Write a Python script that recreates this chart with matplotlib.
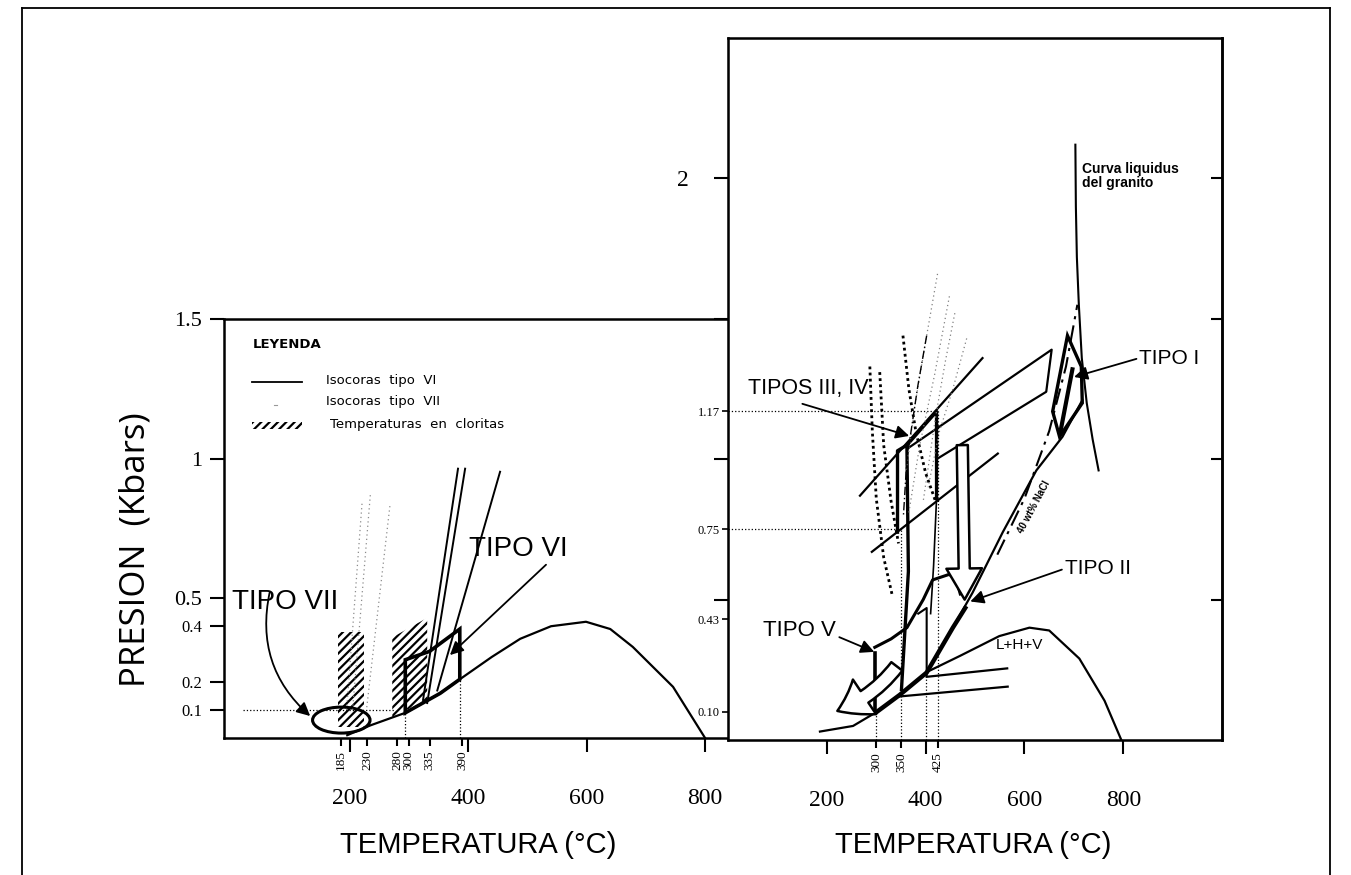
import matplotlib.pyplot as plt
from matplotlib.patches import Ellipse, Polygon, Rectangle
from matplotlib.lines import Line2D

plt.rcParams['hatch.linewidth'] = 1.6
SANS = ['Liberation Sans', 'DejaVu Sans']
SERIF = ['Liberation Serif', 'DejaVu Serif']

# ---------------- left panel (tipos VI y VII) ----------------
left_yticks = [0.1, 0.2, 0.4, 0.5, 1.0, 1.5]
left_ylabels = ['0.1', '0.2', '0.4', '0.5', '1', '1.5']
left_ysizes = [12, 12, 12, 16, 16, 16]
left_xmajor = [200, 400, 600, 800]
left_xminor = [185, 230, 280, 300, 335, 390]

dome_l_T = [196, 235, 294, 353, 386, 440, 488, 540, 599, 640, 678, 746, 800]
dome_l_P = [0.01, 0.045, 0.09, 0.16, 0.21, 0.29, 0.355, 0.40, 0.416, 0.39, 0.326, 0.183, 0.0]

box6_T = [294, 294, 335, 386, 386, 353]
box6_P = [0.09, 0.28, 0.31, 0.39, 0.21, 0.16]

iso6_T = [[324, 383], [331, 395], [348, 454]]
iso6_P = [[0.136, 0.964], [0.125, 0.964], [0.17, 0.953]]

iso7_T = [[195, 221], [205, 235], [229, 268]]
iso7_P = [[0.10, 0.84], [0.10, 0.87], [0.11, 0.83]]

chl1_T = [180, 225, 225, 180]
chl1_P = [0.04, 0.04, 0.38, 0.38]
chl2_T = [272, 331, 331, 272]
chl2_P = [0.075, 0.136, 0.43, 0.36]

ell7 = dict(T=186, P=0.064, dT=97, dP=0.093)

ref_l_h = dict(T=[20, 275], P=[0.1, 0.1])
ref_l_v = dict(T=[294, 386], P=[0.09, 0.21])

# ---------------- right panel (tipos I a V) ----------------
right_yticks = [0.5, 1.0, 1.5, 2.0]
right_ylabels = ['', '', '', '2']
right_yminor = [0.10, 0.43, 0.75, 1.17]
right_xmajor = [200, 400, 600, 800]
right_xminor = [300, 350, 425]

nacl_T = [186, 253, 301, 347, 402, 455, 495, 556, 624, 677, 717]
nacl_P = [0.03, 0.05, 0.10, 0.16, 0.24, 0.40, 0.525, 0.74, 0.96, 1.08, 1.21]
nacl_bold_T = [301, 347, 402, 455, 480]
nacl_bold_P = [0.10, 0.16, 0.24, 0.40, 0.47]
nacl_dash_T = [545, 600, 650, 684, 707]
nacl_dash_P = [0.66, 0.86, 1.10, 1.33, 1.55]
liq_T = [703, 704, 706, 710, 716, 726, 738, 750]
liq_P = [2.12, 1.9, 1.72, 1.55, 1.36, 1.2, 1.07, 0.96]
dome_r_T = [400, 470, 549, 610, 650, 711, 762, 796]
dome_r_P = [0.24, 0.30, 0.37, 0.40, 0.39, 0.29, 0.14, 0.0]

junc_T = [[347, 566], [402, 565]]
junc_P = [[0.155, 0.19], [0.225, 0.255]]

tv_left_T, tv_left_P = [297, 297], [0.107, 0.31]
tv_top_T = [297, 330, 362, 395, 414, 448, 462, 470]
tv_top_P = [0.33, 0.36, 0.40, 0.50, 0.57, 0.59, 0.57, 0.52]
tv_right_T, tv_right_P = [385, 402, 402], [0.45, 0.47, 0.23]

b1_T, b1_P = [343, 343, 362, 365, 351], [0.74, 1.03, 1.05, 0.60, 0.18]
b2_T, b2_P = [362, 422, 422], [1.05, 1.17, 0.86]
b2t_T, b2t_P = [422, 416, 410], [0.86, 0.62, 0.45]

iso34_T = [[267, 515], [365, 655, 644, 422], [291, 546]]
iso34_P = [[0.87, 1.36], [1.04, 1.39, 1.24, 1.00], [0.67, 1.02]]

dot_bold_T = [[287, 292, 300, 315, 333], [307, 315, 330, 345], [354, 366, 380, 400, 420]]
dot_bold_P = [[1.33, 1.1, 0.86, 0.65, 0.51], [1.31, 1.05, 0.85, 0.70], [1.44, 1.25, 1.1, 0.95, 0.85]]
dot_faint_T = [[424, 400, 378, 360], [448, 418, 388, 365], [459, 440, 420, 395], [483, 455, 428, 405]]
dot_faint_P = [[1.66, 1.42, 1.19, 0.95], [1.58, 1.30, 1.05, 0.80], [1.52, 1.35, 1.15, 0.85], [1.43, 1.25, 1.10, 0.90]]
dd_T, dd_P = [402, 384, 362, 355], [1.44, 1.26, 1.0, 0.8]

tipo1_T, tipo1_P = [687, 715, 717, 671, 657], [1.44, 1.33, 1.20, 1.08, 1.17]
tipo1_in_T, tipo1_in_P = [673, 697], [1.10, 1.32]

ref_r_h = dict(T=[[0, 425], [0, 350]], P=[[1.17, 1.17], [0.75, 0.75]])
ref_r_v = dict(T=[300, 350, 400, 425], P=[0.10, 0.75, 0.22, 1.17])

# ---------------- figure ----------------
fig = plt.figure(figsize=(13.51, 8.75), dpi=100)
ax1 = fig.add_axes([0.1658, 0.1566, 0.3723, 0.4789])
ax2 = fig.add_axes([0.5389, 0.1543, 0.3657, 0.8023])

# marco exterior
for xs, ys in [([0.0163, 0.0163], [0, 0.991]), ([0.0163, 0.9845], [0.991, 0.991]),
               ([0.9845, 0.9845], [0, 0.991])]:
    fig.add_artist(Line2D(xs, ys, transform=fig.transFigure, color='k', lw=1.3))

# ---- ax1 ----
ax1.set_xlim(-12, 837)
ax1.set_ylim(0, 1.5)
for s in ['left', 'top', 'bottom']:
    ax1.spines[s].set_linewidth(1.8)
ax1.spines['right'].set_visible(False)
ax1.set_yticks(left_yticks, labels=left_ylabels)
for lab, fs in zip(ax1.get_yticklabels(), left_ysizes):
    lab.set_fontsize(fs)
    lab.set_family(SERIF)
ax1.tick_params(axis='y', direction='out', length=10, width=1.5, pad=6)
ax1.set_xticks(left_xmajor, labels=[str(v) for v in left_xmajor])
ax1.set_xticks(left_xminor, minor=True, labels=[str(v) for v in left_xminor])
ax1.tick_params(axis='x', which='major', length=10, width=1.5, pad=26, labelsize=17)
ax1.tick_params(axis='x', which='minor', length=6, width=1.5, pad=3, labelsize=9.5,
                labelrotation=90)
for lab in ax1.get_xticklabels() + ax1.get_xticklabels(minor=True):
    lab.set_family(SERIF)

ax1.plot(dome_l_T, dome_l_P, color='k', lw=1.6)
ax1.add_patch(Polygon(list(zip(box6_T, box6_P)), closed=True, fill=False, ec='k', lw=2.6))
for t, p in zip(iso6_T, iso6_P):
    ax1.plot(t, p, color='k', lw=1.4)
for t, p in zip(iso7_T, iso7_P):
    ax1.plot(t, p, color='0.55', lw=0.9, ls=(0, (1, 2.5)))
for t, p in [(chl1_T, chl1_P), (chl2_T, chl2_P)]:
    ax1.add_patch(Polygon(list(zip(t, p)), closed=True, fill=False, hatch='////', ec='k', lw=0))
ax1.add_patch(Ellipse((ell7['T'], ell7['P']), ell7['dT'], ell7['dP'], fill=False, ec='k', lw=2.2))
ax1.plot(ref_l_h['T'], ref_l_h['P'], color='k', lw=0.9, ls=':')
for t, p in zip(ref_l_v['T'], ref_l_v['P']):
    ax1.plot([t, t], [0, p], color='k', lw=0.9, ls=':')

arr = dict(arrowstyle='-|>', color='k', lw=1.3, mutation_scale=20)
ax1.annotate('', xy=(137, 0.072), xytext=(66, 0.53),
             arrowprops=dict(arr, connectionstyle='arc3,rad=0.3'))
ax1.annotate('', xy=(366, 0.29), xytext=(535, 0.627), arrowprops=arr)
ax1.text(91, 0.487, 'TIPO VII', family=SANS, fontsize=20, ha='center', va='center')
ax1.text(484, 0.677, 'TIPO VI', family=SANS, fontsize=20, ha='center', va='center')

# leyenda
ax1.text(0.058, 0.938, 'LEYENDA', transform=ax1.transAxes, fontsize=9.5,
         weight='semibold', va='center')
ax1.plot([0.056, 0.155], [0.850, 0.850], transform=ax1.transAxes, color='k', lw=1.3)
ax1.text(0.203, 0.853, 'Isocoras  tipo  VI', transform=ax1.transAxes, fontsize=9.5, va='center')
ax1.plot([0.10, 0.105], [0.795, 0.795], transform=ax1.transAxes, color='0.6', lw=0.8)
ax1.text(0.203, 0.802, 'Isocoras  tipo  VII', transform=ax1.transAxes, fontsize=9.5, va='center')
ax1.add_patch(Rectangle((0.056, 0.737), 0.099, 0.018, transform=ax1.transAxes,
                        fill=False, hatch='////', lw=0))
ax1.text(0.211, 0.747, 'Temperaturas  en  cloritas', transform=ax1.transAxes,
         fontsize=9.5, va='center')

# ---- ax2 ----
ax2.set_xlim(0, 1000)
ax2.set_ylim(0, 2.5)
for s in ax2.spines.values():
    s.set_linewidth(1.8)
ax2.set_yticks(right_yticks, labels=right_ylabels)
ax2.set_yticks(right_yminor, minor=True, labels=['%.2f' % v for v in right_yminor])
ax2.tick_params(axis='y', which='major', direction='out', length=10, width=1.5, pad=18,
                labelsize=17)
ax2.tick_params(axis='y', which='minor', direction='out', length=4, width=1.2, pad=2,
                labelsize=9)
ax2.set_xticks(right_xmajor, labels=[str(v) for v in right_xmajor])
ax2.set_xticks(right_xminor, minor=True, labels=[str(v) for v in right_xminor])
ax2.tick_params(axis='x', which='major', length=10, width=1.5, pad=26, labelsize=17)
ax2.tick_params(axis='x', which='minor', length=6, width=1.5, pad=3, labelsize=9.5,
                labelrotation=90)
for lab in (ax2.get_xticklabels() + ax2.get_xticklabels(minor=True)
            + ax2.get_yticklabels() + ax2.get_yticklabels(minor=True)):
    lab.set_family(SERIF)

ax3 = ax2.twinx()
ax3.set_ylim(0, 2.5)
ax3.set_yticks(right_yticks)
ax3.tick_params(axis='y', direction='in', length=8, width=1.5, labelright=False)
ax3.spines['right'].set_linewidth(1.8)

ax2.plot(nacl_T, nacl_P, color='k', lw=1.6)
ax2.plot(nacl_bold_T, nacl_bold_P, color='k', lw=3.2)
ax2.plot(nacl_dash_T, nacl_dash_P, color='k', lw=1.5, ls=(0, (8, 3, 1.5, 3)))
ax2.plot(liq_T, liq_P, color='k', lw=1.5)
ax2.plot(dome_r_T, dome_r_P, color='k', lw=1.6)
for t, p in zip(junc_T, junc_P):
    ax2.plot(t, p, color='k', lw=1.6)
ax2.plot(tv_left_T, tv_left_P, color='k', lw=2.6)
ax2.plot(tv_top_T, tv_top_P, color='k', lw=2.2)
ax2.plot(tv_right_T, tv_right_P, color='k', lw=1.5)
ax2.plot(b1_T, b1_P, color='k', lw=2.4)
ax2.plot(b2_T, b2_P, color='k', lw=2.4)
ax2.plot(b2t_T, b2t_P, color='k', lw=1.2)
for t, p in zip(iso34_T, iso34_P):
    ax2.plot(t, p, color='k', lw=1.6)
for t, p in zip(dot_bold_T, dot_bold_P):
    ax2.plot(t, p, color='k', lw=2.0, ls=(0, (1, 1.2)))
for t, p in zip(dot_faint_T, dot_faint_P):
    ax2.plot(t, p, color='0.5', lw=0.9, ls=(0, (1, 2.5)))
ax2.plot(dd_T, dd_P, color='k', lw=1.0, ls=(0, (6, 2, 1, 2)))
ax2.add_patch(Polygon(list(zip(tipo1_T, tipo1_P)), closed=True, fill=False, ec='k', lw=2.4))
ax2.plot(tipo1_in_T, tipo1_in_P, color='k', lw=3.0)
for t, p in zip(ref_r_h['T'], ref_r_h['P']):
    ax2.plot(t, p, color='k', lw=0.9, ls=':')
for t, p in zip(ref_r_v['T'], ref_r_v['P']):
    ax2.plot([t, t], [0, p], color='k', lw=0.9, ls=':')

# flechas huecas
ax2.annotate('', xy=(216, 0.10), xytext=(345, 0.27),
             arrowprops=dict(arrowstyle='simple,head_length=1.1,head_width=1.5,tail_width=0.5',
                             fc='white', ec='k', lw=1.8, mutation_scale=20,
                             connectionstyle='arc3,rad=-0.15'))
ax2.annotate('', xy=(479, 0.49), xytext=(474, 1.06),
             arrowprops=dict(arrowstyle='simple,head_length=1.4,head_width=1.6,tail_width=0.5',
                             fc='white', ec='k', lw=1.8, mutation_scale=16))

# flechas de rotulos
ax2.annotate('', xy=(372, 1.08), xytext=(145, 1.20), arrowprops=arr)
ax2.annotate('', xy=(695, 1.29), xytext=(832, 1.36), arrowprops=arr)
ax2.annotate('', xy=(485, 0.49), xytext=(681, 0.61), arrowprops=arr)
ax2.annotate('', xy=(301, 0.31), xytext=(220, 0.37), arrowprops=arr)

ax2.text(162, 1.25, 'TIPOS III, IV', family=SANS, fontsize=15.5, ha='center', va='center')
ax2.text(832, 1.36, 'TIPO I', family=SANS, fontsize=15, ha='left', va='center')
ax2.text(681, 0.61, 'TIPO II', family=SANS, fontsize=15, ha='left', va='center')
ax2.text(145, 0.39, 'TIPO V', family=SANS, fontsize=16, ha='center', va='center')
ax2.text(590, 0.34, 'L+H+V', family=SANS, fontsize=11, ha='center', va='center')
ax2.text(717, 2.06, 'Curva liquidus\ndel granito', family=SANS, fontsize=10,
         weight='bold', ha='left', va='top', linespacing=1.05)
ax2.text(620, 0.83, '40 wt% NaCl', family=SANS, fontsize=7, weight='bold',
         rotation=62, ha='center', va='center')

# titulos de ejes
fig.text(135 / 1351, 1 - 550 / 875, 'PRESION  (Kbars)', family=['Open Sans', 'DejaVu Sans'],
         fontsize=25, rotation=90, ha='center', va='center')
fig.text(478 / 1351, 1 - 845 / 875, 'TEMPERATURA (°C)', family=SANS, fontsize=21,
         ha='center', va='center')
fig.text(973 / 1351, 1 - 845 / 875, 'TEMPERATURA (°C)', family=SANS, fontsize=21,
         ha='center', va='center')

fig.savefig('out.png', dpi=100)
